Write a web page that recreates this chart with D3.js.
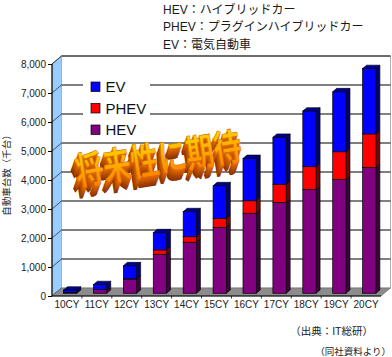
<!DOCTYPE html>
<html><head><meta charset="utf-8">
<script src="https://cdn.jsdelivr.net/npm/d3@7"></script>
<style>
html,body{margin:0;padding:0;background:#fff;}
svg{display:block;}
</style></head>
<body>
<svg id="c" width="392" height="357"></svg>
<script>
const categories = ["10CY","11CY","12CY","13CY","14CY","15CY","16CY","17CY","18CY","19CY","20CY"];
const hevValues  = [20, 130, 490, 1345, 1760, 2275, 2760, 3130, 3585, 3930, 4345];
const phevValues = [0, 0, 10, 150, 190, 310, 430, 630, 780, 950, 1150];
const evValues   = [90, 170, 450, 595, 865, 1125, 1460, 1620, 1920, 2070, 2255];
const yTicks = [0,1000,2000,3000,4000,5000,6000,7000,8000];
const seriesNames = ["HEV","PHEV","EV"];
const noteLines = ["HEV：ハイブリッドカー","PHEV：プラグインハイブリッドカー","EV：電気自動車"];
const yTitle = "自動車台数（千台）";
const sourceText = "（出典：IT総研）";
const sourceText2 = "（同社資料より）";
const bannerText = "将来性に期待";

const svg = d3.select("#c");
const FONT = "'Liberation Sans','Noto Sans CJK JP',sans-serif";
const DX = 9.5, DY = -8;

const x = d3.scaleBand().domain(categories).range([52, 381]).padding(0);
const y = d3.scaleLinear().domain([0, 8000]).range([296, 64]);
const colors = {HEV:{front:"#800080", side:"#3f003f", top:"#5a005a"},
                PHEV:{front:"#ff0000", side:"#7f0000", top:"#a00000"},
                EV:{front:"#0000ff", side:"#00007f", top:"#000090"}};

const x0 = x.range()[0], x1 = x.range()[1];
const yb = y(0), yt = y(8000);

// side wall
svg.append("polygon")
  .attr("points", [[x0,yb],[x0,yt],[x0+DX,yt+DY],[x0+DX,yb+DY]].join(" "))
  .attr("fill","#99ccff").attr("stroke","#555").attr("stroke-width",0.8);
// back wall
svg.append("rect").attr("x",x0+DX).attr("y",yt+DY).attr("width",x1-x0).attr("height",yb-yt)
  .attr("fill","#fff").attr("stroke","#b0b0b0").attr("stroke-width",1);
// gridlines back wall + side wall diagonals
yTicks.forEach(t=>{
  if(t>0){
    svg.append("line").attr("x1",x0+DX).attr("x2",x1+DX).attr("y1",y(t)+DY).attr("y2",y(t)+DY)
      .attr("stroke","#000").attr("stroke-width",1);
  }
  svg.append("line").attr("x1",x0).attr("x2",x0+DX).attr("y1",y(t)).attr("y2",y(t)+DY)
    .attr("stroke","#333").attr("stroke-width",0.8);
});
// floor
svg.append("polygon")
  .attr("points", [[x0,yb],[x1,yb],[x1+DX,yb+DY],[x0+DX,yb+DY]].join(" "))
  .attr("fill","#8c8c8c").attr("stroke","#666").attr("stroke-width",0.6);
// axis lines and ticks
svg.append("line").attr("x1",x0).attr("x2",x0).attr("y1",yt).attr("y2",yb).attr("stroke","#000").attr("stroke-width",1);
svg.append("line").attr("x1",x0).attr("x2",x1).attr("y1",yb).attr("y2",yb).attr("stroke","#000").attr("stroke-width",1);
const yAxis = d3.axisLeft(y).tickValues(yTicks).tickSize(4).tickFormat(d3.format(","));
const ya = svg.append("g").attr("transform",`translate(${x0},0)`).call(yAxis);
ya.select(".domain").remove();
ya.selectAll("text").attr("font-family",FONT).attr("font-size",10).attr("fill","#222").attr("x",-6);
ya.selectAll("line").attr("stroke","#000");
const xAxis = d3.axisBottom(x).tickSize(0);
const xa = svg.append("g").attr("transform",`translate(0,${yb})`).call(xAxis);
xa.select(".domain").remove();
xa.selectAll("text").attr("font-family",FONT).attr("font-size",10).attr("fill","#222").attr("dy","0.71em").attr("y",5);
categories.slice(1).forEach(c=>{
  svg.append("line").attr("x1",x(c)).attr("x2",x(c)).attr("y1",yb).attr("y2",yb+2.5).attr("stroke","#000").attr("stroke-width",0.8);
});

// legend
const lg = svg.append("g");
lg.append("rect").attr("x",83).attr("y",72).attr("width",67).attr("height",68).attr("fill","#fff");
["EV","PHEV","HEV"].forEach((s,i)=>{
  const yy = 82 + i*21.5;
  lg.append("rect").attr("x",91).attr("y",yy).attr("width",9).attr("height",9.5)
    .attr("fill",colors[s].front).attr("stroke","#000").attr("stroke-width",0.7);
  lg.append("text").attr("x",105.5).attr("y",yy+10).attr("font-family",FONT).attr("font-size",15)
    .attr("fill","#111").text(s);
});

// bars
const stackData = categories.map((c,i)=>({cat:c, HEV:hevValues[i], PHEV:phevValues[i], EV:evValues[i]}));
const stacked = d3.stack().keys(seriesNames)(stackData);
const BW = 13.3;
const f0 = 0.34, f1 = 0.76;
const bars = svg.append("g");
stackData.forEach((d,i)=>{
  const cx = x(d.cat) + x.bandwidth()/2;
  const bx0 = cx - BW/2, bx1 = cx + BW/2;
  let topKey = null;
  stacked.forEach(layer=>{ if(layer[i][1]-layer[i][0] > 0) topKey = layer.key; });
  stacked.forEach(layer=>{
    const v0 = layer[i][0], v1 = layer[i][1];
    if(v1 - v0 <= 0) return;
    const c = colors[layer.key];
    const ya0 = y(v0), ya1 = y(v1);
    const ox0 = f0*DX, oy0 = f0*DY, ox1 = f1*DX, oy1 = f1*DY;
    bars.append("polygon").attr("points",[[bx1+ox0,ya1+oy0],[bx1+ox1,ya1+oy1],[bx1+ox1,ya0+oy1],[bx1+ox0,ya0+oy0]].join(" "))
      .attr("fill",c.side).attr("stroke","#000").attr("stroke-width",0.6).attr("stroke-linejoin","round");
    bars.append("rect").attr("x",bx0+ox0).attr("y",ya1+oy0).attr("width",BW).attr("height",ya0-ya1)
      .attr("fill",c.front).attr("stroke","#000").attr("stroke-width",0.7);
    if(layer.key===topKey){
      bars.append("polygon").attr("points",[[bx0+ox0,ya1+oy0],[bx1+ox0,ya1+oy0],[bx1+ox1,ya1+oy1],[bx0+ox1,ya1+oy1]].join(" "))
        .attr("fill",c.top).attr("stroke","#000").attr("stroke-width",0.6).attr("stroke-linejoin","round");
    }
  });
});

// WordArt banner
const defs = svg.append("defs");
const gr = defs.append("linearGradient").attr("id","face").attr("x1",0).attr("y1",0).attr("x2",0).attr("y2",1);
gr.append("stop").attr("offset","0%").attr("stop-color","#ffee00");
gr.append("stop").attr("offset","50%").attr("stop-color","#ffb000");
gr.append("stop").attr("offset","100%").attr("stop-color","#ff7000");
const bn = svg.append("g").attr("transform","translate(158,156) rotate(-9) scale(1,1.35)");
const NK = 10;
for(let k=NK;k>=1;k--){
  const t = k/NK;
  bn.append("text").attr("x",-0.55*k).attr("y",0.75*k)
    .attr("text-anchor","middle").attr("dominant-baseline","central")
    .attr("font-family","'Noto Sans CJK JP',sans-serif").attr("font-weight",700).attr("font-size",28)
    .attr("fill", d3.interpolateRgb("#e86c00","#8a3000")(t)).text(bannerText);
}
bn.append("text").attr("x",0).attr("y",0)
  .attr("text-anchor","middle").attr("dominant-baseline","central")
  .attr("font-family","'Noto Sans CJK JP',sans-serif").attr("font-weight",700).attr("font-size",28)
  .attr("fill","url(#face)").attr("stroke","#d86800").attr("stroke-width",0.4).text(bannerText);

// note lines at top
noteLines.forEach((t,i)=>{
  svg.append("text").attr("x",163).attr("y",13.5+i*17.5).attr("font-family",FONT).attr("font-size",12)
    .attr("fill","#1a1a1a").text(t);
});
// y title
svg.append("text").attr("transform","translate(10,173) rotate(-90)").attr("text-anchor","middle")
  .attr("font-family","'Noto Sans CJK JP',sans-serif").attr("font-size",9.5).attr("fill","#222").text(yTitle);
// sources
svg.append("text").attr("x",373).attr("y",335).attr("text-anchor","end").attr("font-family",FONT)
  .attr("font-size",10.5).attr("fill","#222").text(sourceText);
svg.append("text").attr("x",391).attr("y",355).attr("text-anchor","end").attr("font-family",FONT)
  .attr("font-size",9.5).attr("fill","#222").text(sourceText2);
</script>
</body></html>
